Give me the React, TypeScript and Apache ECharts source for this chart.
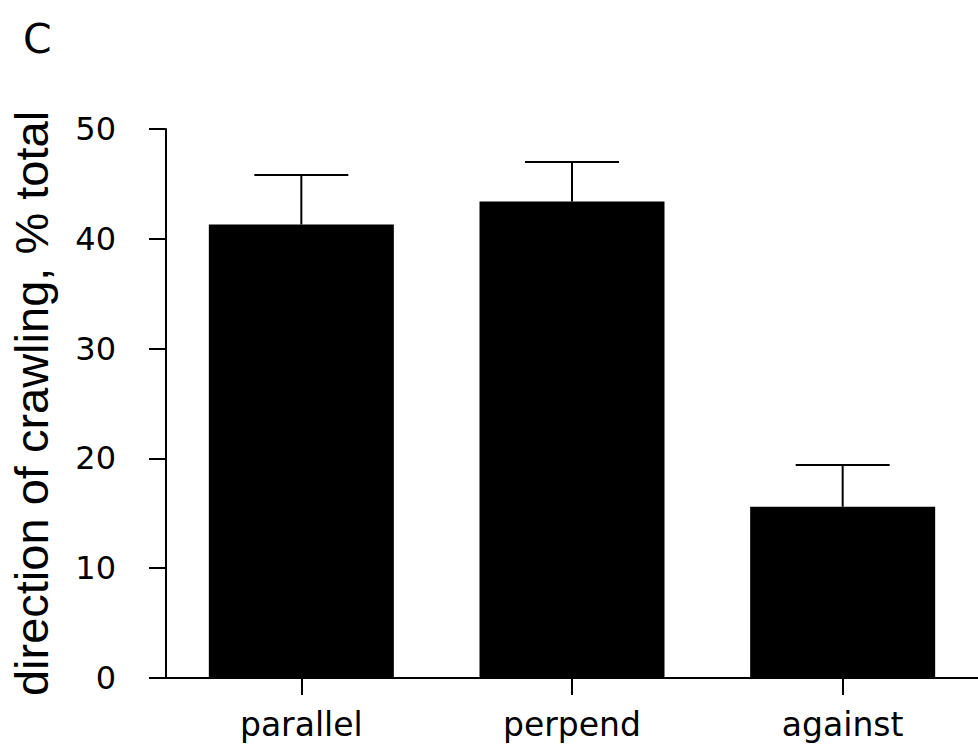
import React, { useEffect, useRef } from "react";
import * as echarts from "echarts";

const categories = ["parallel", "perpend", "against"];
const meanValues = [41.3, 43.4, 15.6];
const semValues = [4.5, 3.6, 3.8];
const yTicks = { min: 0, max: 50, interval: 10 };

const FONT = "'Liberation Sans', Arial, sans-serif";
const WIDE = "'DejaVu Sans', 'Liberation Sans', sans-serif";

export default function App() {
  const ref = useRef<HTMLDivElement>(null);
  useEffect(() => {
    if (!ref.current) return;
    document.body.style.margin = "0";
    const chart = echarts.init(ref.current, undefined, { renderer: "svg" });
    const errData = categories.map((_, i) => [i, meanValues[i], meanValues[i] + semValues[i]]);
    chart.setOption({
      animation: false,
      backgroundColor: "#ffffff",
      title: {
        text: "C",
        left: 18,
        top: 13,
        textStyle: { fontFamily: WIDE, fontSize: 41, fontWeight: "normal", color: "#000" },
      },
      grid: { left: 160, right: -4, top: 129, bottom: 69, containLabel: false },
      xAxis: {
        type: "category",
        data: categories,
        boundaryGap: true,
        axisLine: { show: true, lineStyle: { color: "#000", width: 2 } },
        axisTick: { show: true, alignWithLabel: true, length: 17, lineStyle: { color: "#000", width: 2 } },
        axisLabel: { fontFamily: WIDE, fontSize: 33, color: "#000", margin: 30 },
        splitLine: { show: false },
      },
      yAxis: {
        type: "value",
        min: yTicks.min,
        max: yTicks.max,
        interval: yTicks.interval,
        name: "direction of crawling, % total",
        nameLocation: "middle",
        nameGap: 111,
        nameRotate: 90,
        nameTextStyle: { fontFamily: FONT, fontSize: 47, color: "#000" },
        axisLine: { show: true, lineStyle: { color: "#000", width: 2 } },
        axisTick: { show: true, length: 17, lineStyle: { color: "#000", width: 2 } },
        axisLabel: { fontFamily: WIDE, fontSize: 32, color: "#000", margin: 50 },
        splitLine: { show: false },
      },
      series: [
        {
          type: "bar",
          data: meanValues,
          barWidth: 185,
          itemStyle: { color: "#000" },
          z: 2,
        },
        {
          type: "custom",
          data: errData,
          z: 3,
          renderItem: (params: any, api: any) => {
            const x = api.value(0);
            const lo = api.coord([x, api.value(1)]);
            const hi = api.coord([x, api.value(2)]);
            const half = 47;
            const style = { stroke: "#000", lineWidth: 2 };
            return {
              type: "group",
              children: [
                { type: "line", shape: { x1: lo[0], y1: lo[1], x2: hi[0], y2: hi[1] }, style },
                { type: "line", shape: { x1: hi[0] - half, y1: hi[1], x2: hi[0] + half, y2: hi[1] }, style },
              ],
            };
          },
        },
      ],
    });
    return () => chart.dispose();
  }, []);
  return <div ref={ref} style={{ width: 978, height: 747 }} />;
}
